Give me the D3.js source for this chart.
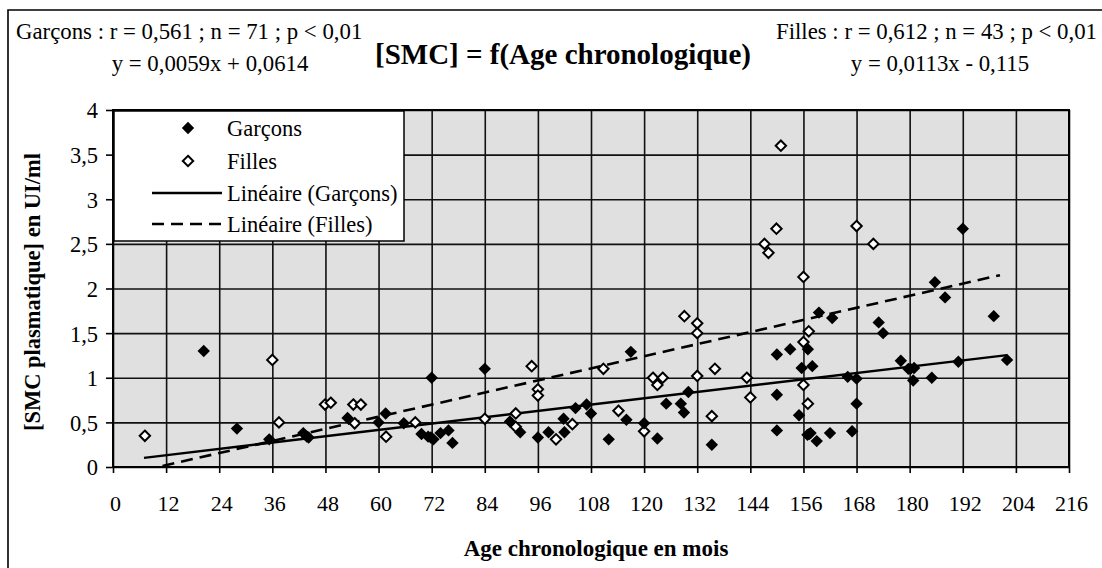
<!DOCTYPE html>
<html><head><meta charset="utf-8">
<script src="https://cdn.jsdelivr.net/npm/d3@7/dist/d3.min.js"></script>
<style>
body{margin:0;background:#fff}
svg{display:block}
text{font-family:"Liberation Serif","Times New Roman",Times,serif;fill:#000}
</style>
</head><body>
<svg id="c" width="1102" height="568"></svg>
<script>
// ---- data ----
const ageGarcons = [20.5,28,35.3,43,44.2,43.8,53,60,61.6,65.7,69.7,71.2,71.8,72.4,74,75.8,76.7,72,84,89.7,92,96,98.4,101.8,102,104.5,107,108,112,116,117,120,123,125,128.3,129,130,135.3,150,153,150,150,155,157,155.6,158,159.5,156.9,157.6,157.3,159,162,162.5,166,168,168,167,173,174,178,179.7,180.2,181,180.8,185,185.7,188,191,192,199,202];
const smcGarcons = [1.30,0.43,0.31,0.38,0.33,0.34,0.55,0.50,0.60,0.49,0.37,0.34,0.33,0.31,0.38,0.41,0.27,1.00,1.10,0.51,0.39,0.33,0.39,0.54,0.39,0.66,0.70,0.60,0.31,0.53,1.29,0.49,0.32,0.71,0.71,0.61,0.84,0.25,1.26,1.32,0.81,0.41,0.58,1.32,1.11,1.13,1.73,0.36,0.38,0.37,0.29,0.38,1.67,1.01,0.99,0.71,0.40,1.62,1.50,1.19,1.10,1.10,1.11,0.97,1.00,2.07,1.90,1.18,2.67,1.69,1.20];
const ageFilles = [7.2,36,37.5,47.9,49.2,54.3,56,54.6,61.7,68.3,84,91,91,94.6,96,96,100.1,103.8,110.8,114.2,120,122,124.2,123,129.1,132,132,132,136,135.3,143.2,144,147.2,148.1,149.9,150.9,156,156,157.2,156,157,168,171.8];
const smcFilles = [0.35,1.20,0.50,0.70,0.72,0.70,0.70,0.49,0.34,0.50,0.54,0.60,0.45,1.13,0.87,0.80,0.31,0.48,1.10,0.63,0.40,1.00,1.00,0.92,1.69,1.61,1.50,1.02,1.10,0.57,1.00,0.78,2.50,2.40,2.67,3.60,2.13,1.40,1.52,0.92,0.71,2.70,2.50];
// trend lines: [slope, intercept], x-span
const trendGarcons = [0.0059, 0.0614];
const trendFilles = [0.0113, -0.115];
const trendSpanGarcons = [7, 202];
const trendSpanFilles = [7, 200.4];
const xTicks = [0,12,24,36,48,60,72,84,96,108,120,132,144,156,168,180,192,204,216];
const yTicks = [0,0.5,1,1.5,2,2.5,3,3.5,4];
const legendLabels = ["Garçons","Filles","Linéaire (Garçons)","Linéaire (Filles)"];
const titleText = "[SMC] = f(Age chronologique)";
const xTitle = "Age chronologique en mois";
const yTitle = "[SMC plasmatique] en UI/ml";
const statsG = ["Garçons : r = 0,561 ; n = 71 ; p < 0,01", "y = 0,0059x + 0,0614"];
const statsF = ["Filles : r = 0,612 ; n = 43 ; p < 0,01", "y = 0,0113x - 0,115"];

// ---- layout ----
const L=113,R=1069,T=110,B=467;
const FONT = '"Liberation Serif","Times New Roman",Times,serif';
const svg = d3.select("#c");
const x = d3.scaleLinear().domain([0,216]).range([L,R]);
const y = d3.scaleLinear().domain([0,4]).range([B,T]);
const fmt = v => String(v).replace(".", ",");

// outer frame (top and left edges visible)
svg.append("path").attr("d","M8,568 L8,10 L1102,10").attr("fill","none").attr("stroke","#000").attr("stroke-width",1.6);

// plot background
svg.append("rect").attr("x",L).attr("y",T).attr("width",R-L).attr("height",B-T).attr("fill","#e0e0e0");

// grid
const gx = svg.append("g").attr("transform",`translate(0,${B})`)
  .call(d3.axisBottom(x).tickValues(xTicks).tickSize(-(B-T)).tickFormat(""));
gx.select(".domain").remove();
gx.selectAll("line").attr("stroke","#111").attr("stroke-width",1.6);
const gy = svg.append("g").attr("transform",`translate(${L},0)`)
  .call(d3.axisLeft(y).tickValues(yTicks).tickSize(-(R-L)).tickFormat(""));
gy.select(".domain").remove();
gy.selectAll("line").attr("stroke","#111").attr("stroke-width",1.6);

// axes with outward ticks and labels
const ax = svg.append("g").attr("transform",`translate(0,${B})`)
  .call(d3.axisBottom(x).tickValues(xTicks).tickSize(6).tickFormat(fmt));
ax.select(".domain").remove();
ax.selectAll("line").attr("stroke","#000").attr("stroke-width",1.6);
ax.selectAll("text").attr("y",44).attr("dy",0).attr("dx",2).style("font-size","22px").style("font-family",FONT);
const ay = svg.append("g").attr("transform",`translate(${L},0)`)
  .call(d3.axisLeft(y).tickValues(yTicks).tickSize(7).tickFormat(fmt));
ay.select(".domain").remove();
ay.selectAll("line").attr("stroke","#000").attr("stroke-width",1.6);
ay.selectAll("text").attr("x",-15).attr("dy","0.35em").style("font-size","22.5px").style("font-family",FONT);

// plot border
svg.append("rect").attr("x",L).attr("y",T).attr("width",R-L).attr("height",B-T).attr("fill","none").attr("stroke","#000").attr("stroke-width",2);

// clip
svg.append("clipPath").attr("id","pc").append("rect").attr("x",L).attr("y",T).attr("width",R-L).attr("height",B-T);

// trend lines
const line = d3.line().x(d=>x(d[0])).y(d=>y(d[1]));
function trendPts(tr, span){ return span.map(v=>[v, tr[0]*v+tr[1]]); }
svg.append("path").attr("clip-path","url(#pc)").attr("d",line(trendPts(trendGarcons,trendSpanGarcons)))
  .attr("fill","none").attr("stroke","#000").attr("stroke-width",2.4);
svg.append("path").attr("clip-path","url(#pc)").attr("d",line(trendPts(trendFilles,trendSpanFilles)))
  .attr("fill","none").attr("stroke","#000").attr("stroke-width",2.6).attr("stroke-dasharray","12,7");

// diamond symbol
const diamondType = {draw(ctx,size){const r=Math.sqrt(size/2); ctx.moveTo(0,-r); ctx.lineTo(r,0); ctx.lineTo(0,r); ctx.lineTo(-r,0); ctx.closePath();}};
const symFilled = d3.symbol().type(diamondType).size(2*6.2*6.2)();
const symOpen = d3.symbol().type(diamondType).size(2*5.2*5.2)();

const dataF = ageFilles.map((a,i)=>[a,smcFilles[i]]);
const dataG = ageGarcons.map((a,i)=>[a,smcGarcons[i]]);
svg.append("g").attr("clip-path","url(#pc)").selectAll("path").data(dataF).join("path")
  .attr("d",symOpen).attr("transform",d=>`translate(${x(d[0])},${y(d[1])})`)
  .attr("fill","#fff").attr("stroke","#000").attr("stroke-width",2);
svg.append("g").attr("clip-path","url(#pc)").selectAll("path").data(dataG).join("path")
  .attr("d",symFilled).attr("transform",d=>`translate(${x(d[0])},${y(d[1])})`)
  .attr("fill","#000");

// legend
const lg = svg.append("g");
lg.append("rect").attr("x",114).attr("y",111).attr("width",290).attr("height",130).attr("fill","#fff").attr("stroke","#000").attr("stroke-width",1.5);
const ly = [128,161,193,224];
lg.append("path").attr("d",symFilled).attr("transform",`translate(188,${ly[0]})`).attr("fill","#000");
lg.append("path").attr("d",symOpen).attr("transform",`translate(188,${ly[1]})`).attr("fill","#fff").attr("stroke","#000").attr("stroke-width",2);
lg.append("line").attr("x1",152).attr("x2",222).attr("y1",ly[2]).attr("y2",ly[2]).attr("stroke","#000").attr("stroke-width",2.4);
lg.append("line").attr("x1",152).attr("x2",222).attr("y1",ly[3]).attr("y2",ly[3]).attr("stroke","#000").attr("stroke-width",2.6).attr("stroke-dasharray","12,7");
lg.selectAll("text.l").data(legendLabels).join("text").attr("class","l")
  .attr("x",227).attr("y",(d,i)=>ly[i]).attr("dy","0.35em").style("font-size","22.5px").text(d=>d);

// titles
svg.append("text").attr("x",563).attr("y",64).attr("text-anchor","middle")
  .style("font-size","29px").style("font-weight","bold").text(titleText);
svg.append("text").attr("x",596).attr("y",556).attr("text-anchor","middle")
  .style("font-size","23px").style("font-weight","bold").text(xTitle);
svg.append("text").attr("transform","translate(40,292) rotate(-90)").attr("text-anchor","middle")
  .style("font-size","22.5px").style("font-weight","bold").text(yTitle);

// stats
svg.append("text").attr("x",16).attr("y",39).style("font-size","22.8px").text(statsG[0]);
svg.append("text").attr("x",210).attr("y",71).attr("text-anchor","middle").style("font-size","22.8px").text(statsG[1]);
svg.append("text").attr("x",1097).attr("y",39).attr("text-anchor","end").style("font-size","22.8px").text(statsF[0]);
svg.append("text").attr("x",940).attr("y",71).attr("text-anchor","middle").style("font-size","22.8px").text(statsF[1]);
</script>
</body></html>
